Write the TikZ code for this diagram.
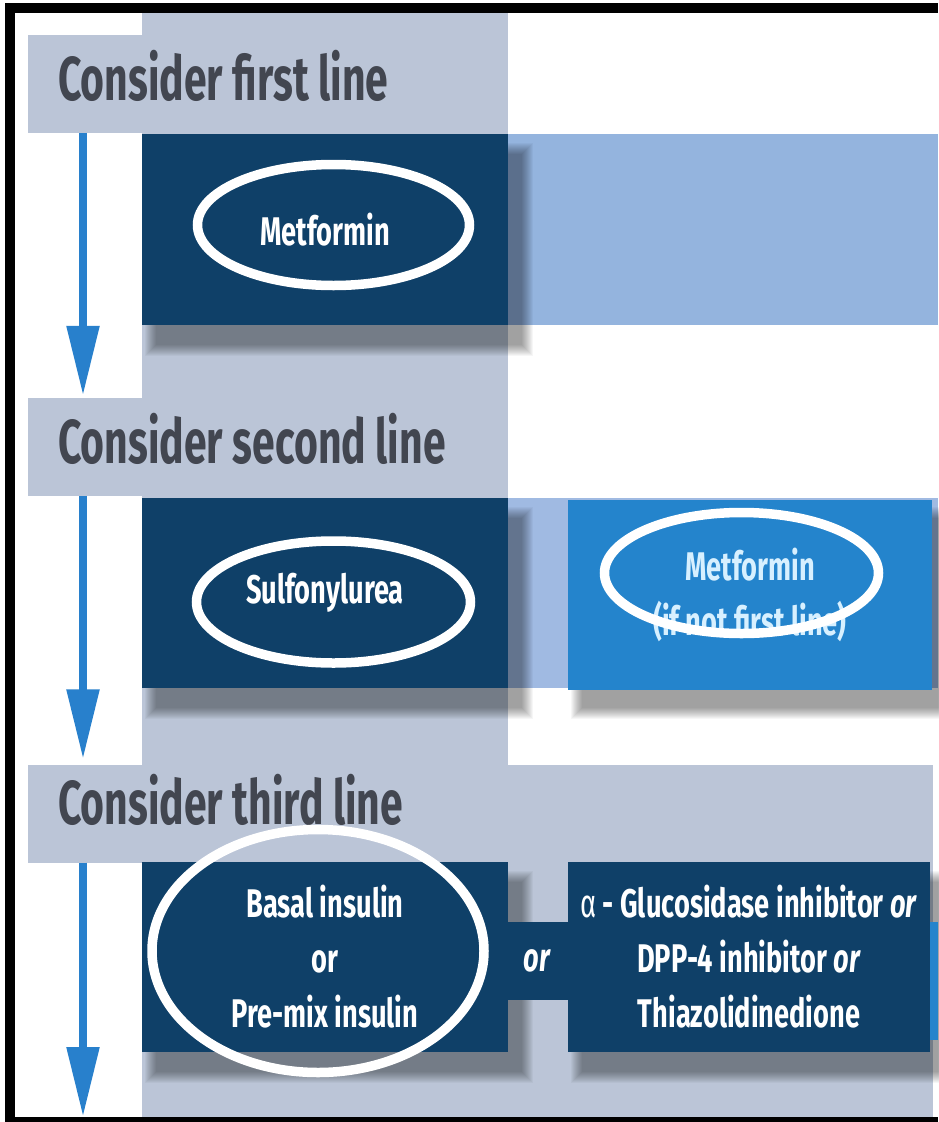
\documentclass[tikz,border=0pt]{standalone}
\usepackage{fontspec}
\setmainfont{Fira Sans}
\newfontfamily\headfont[FakeStretch=0.66]{Fira Sans}
\newfontfamily\boxfont[FakeStretch=0.68]{Fira Sans}
\usetikzlibrary{arrows.meta,calc,shapes.geometric}

\definecolor{panel}{RGB}{187,197,215}
\definecolor{navy}{RGB}{15,64,104}
\definecolor{band}{RGB}{148,180,222}
\definecolor{bandpale}{RGB}{160,186,226}
\definecolor{bright}{RGB}{36,132,204}
\definecolor{flowblue}{RGB}{40,128,204}
\definecolor{headink}{RGB}{66,70,80}
\definecolor{paleink}{RGB}{215,240,255}

% soft drop shadow under a box given by its corners (x1,y1)-(x2,y2)
\newcommand\castshade[4]{%
  \foreach \k in {1,...,12}{%
    \fill[black,opacity=0.035]
      ({#1+14-12+\k},{#2+20-12+\k}) rectangle ({#3+14+12-\k},{#4+20+12-\k});
  }}

\tikzset{
  headbox/.style={rectangle, fill=panel, draw=none, inner sep=0pt,
    minimum width=480pt, minimum height=98pt},
  headtext/.style={inner sep=0pt, text=headink,
    font=\headfont\bfseries\fontsize{62}{70}\selectfont},
  navybox/.style={rectangle, fill=navy, draw=none, inner sep=0pt,
    text=white, align=center,
    font=\boxfont\bfseries\fontsize{40}{55}\selectfont},
  brightbox/.style={navybox, fill=bright, text=paleink},
  linkbox/.style={navybox, font=\boxfont\bfseries\itshape\fontsize{40}{48}\selectfont},
  ring/.style={ellipse, draw=white, line width=9.5pt, fill=none, inner sep=0pt},
  flow/.style={draw=flowblue, line width=8.5pt,
    -{Triangle[length=70pt,width=31pt]}},
}

\begin{document}
\begin{tikzpicture}[x=1pt,y=-1pt]
\useasboundingbox (0,0) rectangle (938,1122);
\fill[white] (0,0) rectangle (938,1122);

% background panels
\fill[panel] (142,13) rectangle (508,1117);
\fill[panel] (508,765) rectangle (933,1117);

% light bands beside the boxes
\fill[band] (508,134) rectangle (938,325);
\fill[bandpale] (508,498) rectangle (938,688);

% section headers
\node[headbox] (h1) at (268,84) {};
\node[headbox] (h2) at (268,447) {};
\node[headbox] (h3) at (268,813.5) {};
\node[headtext, anchor=base west] (t1) at (58,100) {Consider first line};
\node[headtext, anchor=base west] (t2) at (58,463) {Consider second line};
\node[headtext, anchor=base west] (t3) at (58,824) {Consider third line};

% shadows
\castshade{142}{134}{508}{325}
\castshade{142}{498}{508}{688}
\castshade{568}{498}{932}{688}
\castshade{142}{862}{508}{1052}
\castshade{568}{862}{930}{1052}

% treatment boxes
\node[navybox, minimum width=366pt, minimum height=191pt] (b1) at (325,229.5) {Metformin};
\node[navybox, minimum width=366pt, minimum height=190pt] (b2) at (325,593) {Sulfonylurea};
\node[brightbox, minimum width=364pt, minimum height=190pt] (b3) at (750,595)
  {Metformin\\(if not first line)};
\node[navybox, minimum width=366pt, minimum height=190pt] (b4) at (325,957)
  {Basal insulin\\or\\Pre-mix insulin};
\node[linkbox, minimum width=64pt, minimum height=78pt] (lk) at (537,961) {or};
\node[navybox, minimum width=362pt, minimum height=190pt] (b5) at (749,957)
  {{\mdseries α} - Glucosidase inhibitor \textit{or}\\DPP-4 inhibitor \textit{or}\\Thiazolidinedione};
\node[rectangle, fill=bright, inner sep=0pt, minimum width=8pt, minimum height=118pt] (edge) at (934,981) {};

% flow arrows down the left side
\coordinate (ax) at (83,0);
\coordinate (end) at (83,1117);
\draw[flow] (h1.south -| ax) -- ($(h2.north -| ax)+(0,-2)$);
\draw[flow] (h2.south -| ax) -- ($(h3.north -| ax)+(0,-5)$);
\draw[flow] (h3.south -| ax) -- (end);

% highlight rings
\node[ring, minimum width=272pt, minimum height=121pt] (r1) at (333.5,225) {};
\node[ring, minimum width=274pt, minimum height=122pt] (r2) at (333.5,602) {};
\node[ring, minimum width=274pt, minimum height=121pt] (r3) at (741.5,573) {};
\node[ring, minimum width=332pt, minimum height=243pt] (r4) at (318,951) {};

% frame
\fill[black] (5,3) rectangle (938,13);
\fill[black] (5,3) rectangle (15,1122);
\fill[black] (5,1117) rectangle (938,1122);
\end{tikzpicture}
\end{document}
